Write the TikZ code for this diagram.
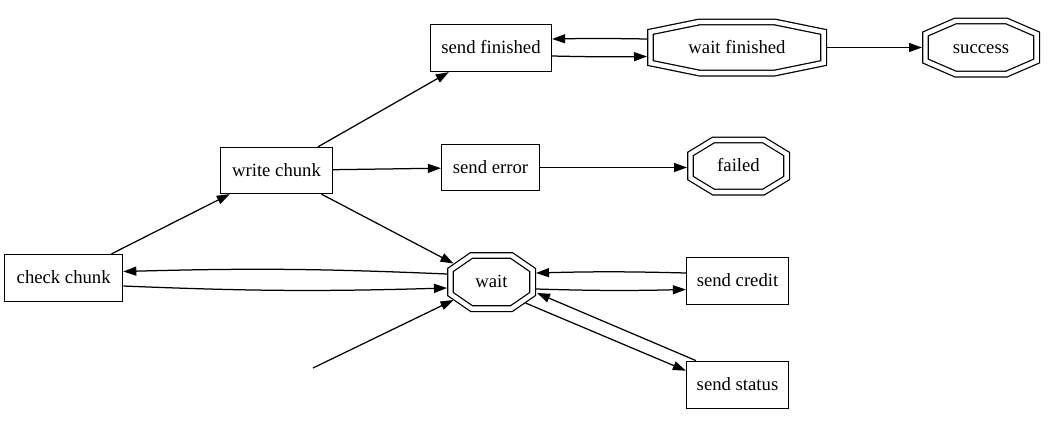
\documentclass[tikz,border=0pt]{standalone}
\usepackage{fontspec}
\setmainfont{Liberation Serif}
\usetikzlibrary{arrows.meta,calc}
\tikzset{
  lbl/.style={font=\fontsize{18.7pt}{22pt}\selectfont, text height=13.4pt, text depth=1.6pt},
  box/.style={lbl, draw, line width=1.25pt, rectangle, inner sep=0pt},
  octlbl/.style={lbl, rectangle, inner sep=0pt, outer sep=0pt},
  dbl/.style={draw, line width=1.25pt, double=white, double distance=4.4pt, line join=miter},
  edge/.style={line width=1.25pt, -{Triangle[length=13pt,width=9pt]}},
}
% #1 name, #2 x, #3 y, #4 outer half width, #5 outer half height, #6 chamfer x, #7 chamfer y, #8 text
\newcommand\dbloct[8]{%
  \node[octlbl, minimum width={2*#4pt}, minimum height={2*#5pt}] (#1) at (#2,#3) {#8};
  \draw[dbl, shift={(#2,#3)}]
    ({-#4+3.45+#6},{-#5+3.45}) -- ({#4-3.45-#6},{-#5+3.45}) --
    ({#4-3.45},{-#5+3.45+#7}) -- ({#4-3.45},{#5-3.45-#7}) --
    ({#4-3.45-#6},{#5-3.45}) -- ({-#4+3.45+#6},{#5-3.45}) --
    ({-#4+3.45},{#5-3.45-#7}) -- ({-#4+3.45},{-#5+3.45+#7}) -- cycle;
}
\begin{document}
\begin{tikzpicture}[x=1pt,y=-1pt]
  \fill[white] (0,0) rectangle (1048,426);
  \useasboundingbox (0,0) rectangle (1048,426);

  % rectangle nodes
  \node[box, minimum width=121pt, minimum height=47pt] (sf) at (491,48) {send finished};
  \node[box, minimum width=112pt, minimum height=46pt] (wc) at (276.5,170.5) {write chunk};
  \node[box, minimum width=98pt, minimum height=46pt] (se) at (490.5,167.5) {send error};
  \node[box, minimum width=118pt, minimum height=47pt] (cc) at (63.7,278) {check chunk};
  \node[box, minimum width=102pt, minimum height=47pt] (sc) at (737.5,281) {send credit};
  \node[box, minimum width=102pt, minimum height=47pt] (ss) at (737.5,384.7) {send status};

  % double octagons
  \dbloct{wf}{737}{47.5}{90}{29}{49}{10}{wait finished}
  \dbloct{success}{981}{47.5}{59}{30}{30}{13}{success}
  \dbloct{failed}{738.5}{166}{51.5}{29.5}{23}{14}{failed}
  \dbloct{wait}{491.5}{282}{44.5}{30}{21}{14.5}{wait}

  \coordinate (start) at (313,368);

  % connectors
  \draw[edge] (cc) -- (wc);
  \draw[edge] (wc) -- (sf);
  \draw[edge] (wc) -- (se);
  \draw[edge] (wc) -- ($(wait.center)+(-38,-18.5)$);
  \draw[edge] ($(sf.east)+(0,8)$) to[bend right=1] ($(wf.west)+(0,9)$);
  \draw[edge] ($(wf.west)+(0,-8.5)$) to[bend right=1] ($(sf.east)+(0,-9)$);
  \draw[edge] (wf) -- (success);
  \draw[edge] (se.east) -- (failed.west |- se.east);
  \draw[edge] ($(wait.west)+(0,-8)$) to[bend right=2] ($(cc.east)+(0,-6.5)$);
  \draw[edge] ($(cc.east)+(0,8)$) to[bend right=2] ($(wait.west)+(0,6)$);
  \draw[edge] ($(sc.west)+(0,-8)$) to[bend right=1.5] ($(wait.east)+(0,-9)$);
  \draw[edge] ($(wait.east)+(0,7)$) to[bend right=1.5] ($(sc.west)+(0,8.5)$);
  \draw[edge] ($(ss.north west)+(10,0)$) -- ($(wait.east)+(1,11)$);
  \draw[edge] ($(wait.center)+(34,21)$) -- ($(ss.west)+(0,-14)$);
  \draw[edge] (start) -- ($(wait.center)+(-38,18)$);
\end{tikzpicture}
\end{document}
